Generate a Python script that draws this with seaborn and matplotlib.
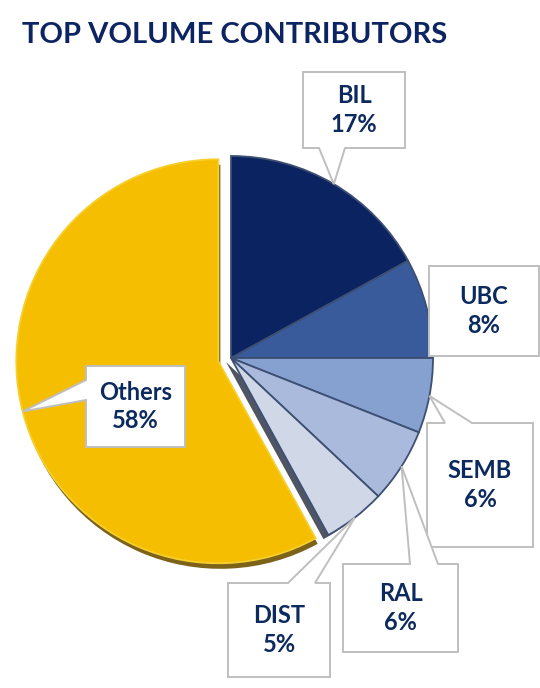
#%%
import numpy as np
import seaborn as sns
import matplotlib.pyplot as plt
from matplotlib.patches import Polygon
import matplotlib.patheffects as pe

sns.set_theme(style="white")
plt.rcParams["font.family"] = ["Lato", "DejaVu Sans"]

#%% data
labels = ["BIL", "UBC", "SEMB", "RAL", "DIST", "Others"]
shares = [17, 8, 6, 6, 5, 58]
colors = ["#0b2361", "#3a5b9b", "#86a1cf", "#aabadc", "#d0d8e8", "#f5be00"]
navy = "#0c2a5e"

#%% layout (pixels): pie radius / centre, callout boxes (l, t, r, b), pointer side + base
W, H = 540, 688
R, CX, CY = 202.0, 231, 358
boxes = {
    "BIL": ((303, 72, 405, 148), "bottom", (319, 345)),
    "UBC": ((429, 266, 539, 356), None, None),
    "SEMB": ((427, 423, 533, 547), "top", (445, 472)),
    "RAL": ((343, 564, 458, 652), "top", (410, 438)),
    "DIST": ((228, 583, 330, 677), "top", (288, 315)),
    "Others": ((86, 366, 185, 447), "left", (380, 400)),
}


def px(x, y):
    return (x - CX) / R, (CY - y) / R


def callout(ax, box, side, base, tip):
    l, t, r, b = box
    pts = [px(l, t)]
    if side == "top":
        pts += [px(base[0], t), tip, px(base[1], t)]
    pts += [px(r, t), px(r, b)]
    if side == "bottom":
        pts += [px(base[1], b), tip, px(base[0], b)]
    pts += [px(l, b)]
    if side == "left":
        pts += [px(l, base[1]), tip, px(l, base[0])]
    ax.add_patch(Polygon(pts, closed=True, facecolor="white",
                         edgecolor="#bfbfbf", linewidth=1.4, zorder=5))


#%% figure
fig = plt.figure(figsize=(W / 100, H / 100), dpi=100)
ax = fig.add_axes([0, 0, 1, 1])

wedges, _ = ax.pie(
    shares, colors=colors, startangle=90, counterclock=False,
    explode=[0, 0, 0, 0, 0, 0.065],
    wedgeprops=dict(edgecolor="#3d4f73", linewidth=1.3),
)
wedges[-1].set_edgecolor("#f6cf2e")
wedges[-1].set_path_effects([
    pe.SimplePatchShadow(offset=(1.5, -4), shadow_rgbFace="#6e5200", alpha=0.9),
    pe.Normal(),
])
wedges[4].set_path_effects([
    pe.SimplePatchShadow(offset=(-3.5, -3), shadow_rgbFace="#4f5562", alpha=1),
    pe.Normal(),
])

for w, lab, val in zip(wedges, labels, shares):
    ang = np.deg2rad((w.theta1 + w.theta2) / 2)
    tip = (w.center[0] + w.r * np.cos(ang), w.center[1] + w.r * np.sin(ang))
    box, side, base = boxes[lab]
    callout(ax, box, side, base, tip)
    cx, cy = px((box[0] + box[2]) / 2, (box[1] + box[3]) / 2)
    ax.text(cx, cy, f"{lab}\n{val}%", ha="center", va="center", fontsize=17,
            fontweight="bold", color=navy, linespacing=1.3, zorder=6)

ax.set_xlim(px(0, 0)[0], px(W, 0)[0])
ax.set_ylim(px(0, H)[1], px(0, 0)[1])
ax.set_aspect("equal")
ax.axis("off")

fig.text(22 / W, 1 - 35 / H, "TOP VOLUME CONTRIBUTORS", fontsize=21,
         fontweight="bold", color="#0c2461", ha="left", va="center")

fig.savefig("out.png", dpi=100)
